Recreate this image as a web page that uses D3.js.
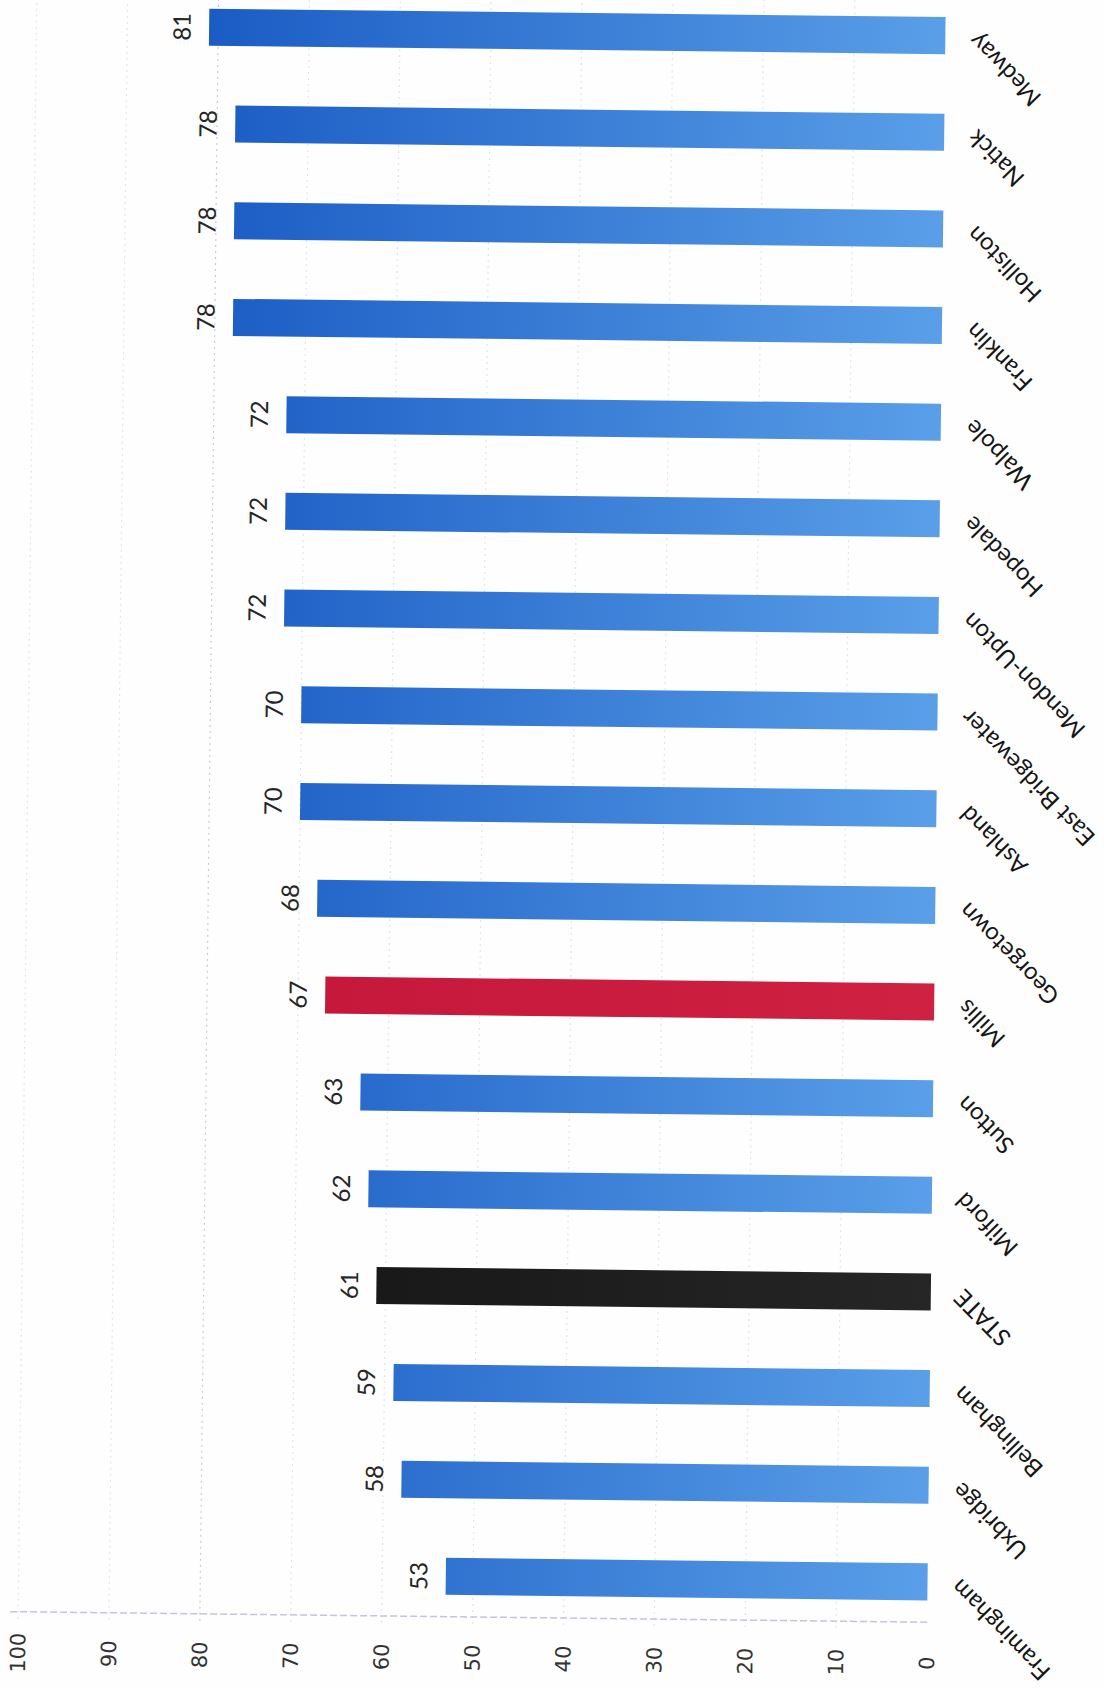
<!DOCTYPE html>
<html><head><meta charset="utf-8">
<script src="https://d3js.org/d3.v7.min.js"></script>
<style>html,body{margin:0;padding:0;background:#fff;} svg{display:block;}</style>
</head><body>
<svg id="chart" width="1104" height="1688"></svg>
<script>
// Data (original chart order: left to right)
const categories = ["Framingham","Uxbridge","Bellingham","STATE","Milford","Sutton","Millis","Georgetown","Ashland","East Bridgewater","Mendon-Upton","Hopedale","Walpole","Franklin","Holliston","Natick","Medway"];
const values = [53,58,59,61,62,63,67,68,70,70,72,72,72,78,78,78,81];
const highlightRed = ["Millis"];
const highlightBlack = ["STATE"];
const valueTicks = [0,10,20,30,40,50,60,70,80,90,100];

const W = 1104, H = 1688;
const svg = d3.select("#chart");
svg.append("rect").attr("width", W).attr("height", H).attr("fill", "#fefefe");

const defs = svg.append("defs");
function grad(id, c1, c2) {
  const gr = defs.append("linearGradient").attr("id", id)
    .attr("gradientUnits", "userSpaceOnUse")
    .attr("x1", 200).attr("x2", 940).attr("y1", 0).attr("y2", 0);
  gr.append("stop").attr("offset", "0%").attr("stop-color", c1);
  gr.append("stop").attr("offset", "100%").attr("stop-color", c2);
}
grad("gBlue", "#1a5cc4", "#5a9fe8");
grad("gRed", "#c3163a", "#cf2141");
grad("gBlack", "#141414", "#262626");

const x = d3.scaleLinear().domain([0, 100]).range([936, 27]);
const y = d3.scaleBand().domain(categories.slice().reverse())
  .range([-18, 1625]).paddingInner(0.617).paddingOuter(0.3085);

const g = svg.append("g").attr("transform", "rotate(0.66,480,844)");

// gridlines
g.append("g").selectAll("line").data(valueTicks.filter(v => v > 0)).join("line")
  .attr("x1", d => x(d)).attr("x2", d => x(d))
  .attr("y1", -10).attr("y2", 1627)
  .attr("stroke", d => d === 80 ? "#c9cbdc" : "#e3e4ee").attr("stroke-width", 1.2)
  .attr("stroke-dasharray", "2,4");

// value axis line
g.append("line")
  .attr("x1", x(100) - 8).attr("x2", x(0)).attr("y1", 1617).attr("y2", 1617)
  .attr("stroke", "#c2c5dc").attr("stroke-width", 1.5).attr("stroke-dasharray", "7,3");

// bars
const data = categories.map((c, i) => ({c, v: values[i]}));
g.append("g").selectAll("rect").data(data).join("rect")
  .attr("x", d => x(d.v))
  .attr("width", d => x(0) - x(d.v))
  .attr("y", d => y(d.c))
  .attr("height", y.bandwidth())
  .attr("fill", d => highlightRed.includes(d.c) ? "url(#gRed)" : highlightBlack.includes(d.c) ? "url(#gBlack)" : "url(#gBlue)");

// value labels
g.append("g").selectAll("text").data(data).join("text")
  .attr("transform", d => `translate(${x(d.v) - 28},${y(d.c) + y.bandwidth() / 2}) rotate(-90)`)
  .attr("text-anchor", "middle").attr("dominant-baseline", "central")
  .attr("font-family", "Lato, 'Open Sans', sans-serif").attr("font-size", 24)
  .attr("fill", "#262626")
  .text(d => d.v);

// category labels
g.append("g").selectAll("text").data(data).join("text")
  .attr("transform", d => `translate(${x(0) + 27},${y(d.c) + y.bandwidth() / 2 + 2}) rotate(-135)`)
  .attr("text-anchor", "end").attr("dominant-baseline", "central")
  .attr("font-family", "Lato, 'Open Sans', sans-serif").attr("font-size", 24)
  .attr("fill", "#161616")
  .text(d => d.c);

// value axis tick labels
const axis = d3.axisBottom(x).tickValues(valueTicks).tickSize(0).tickFormat(d3.format("d"));
const ag = g.append("g").attr("transform", "translate(0,1658)").call(axis);
ag.select(".domain").remove();
ag.selectAll(".tick text")
  .attr("y", 0).attr("dy", null)
  .attr("transform", "rotate(-90)")
  .attr("text-anchor", "middle").attr("dominant-baseline", "central")
  .attr("font-family", "'DejaVu Sans', Verdana, sans-serif").attr("font-size", 21)
  .attr("fill", "#333");
</script>
</body></html>
